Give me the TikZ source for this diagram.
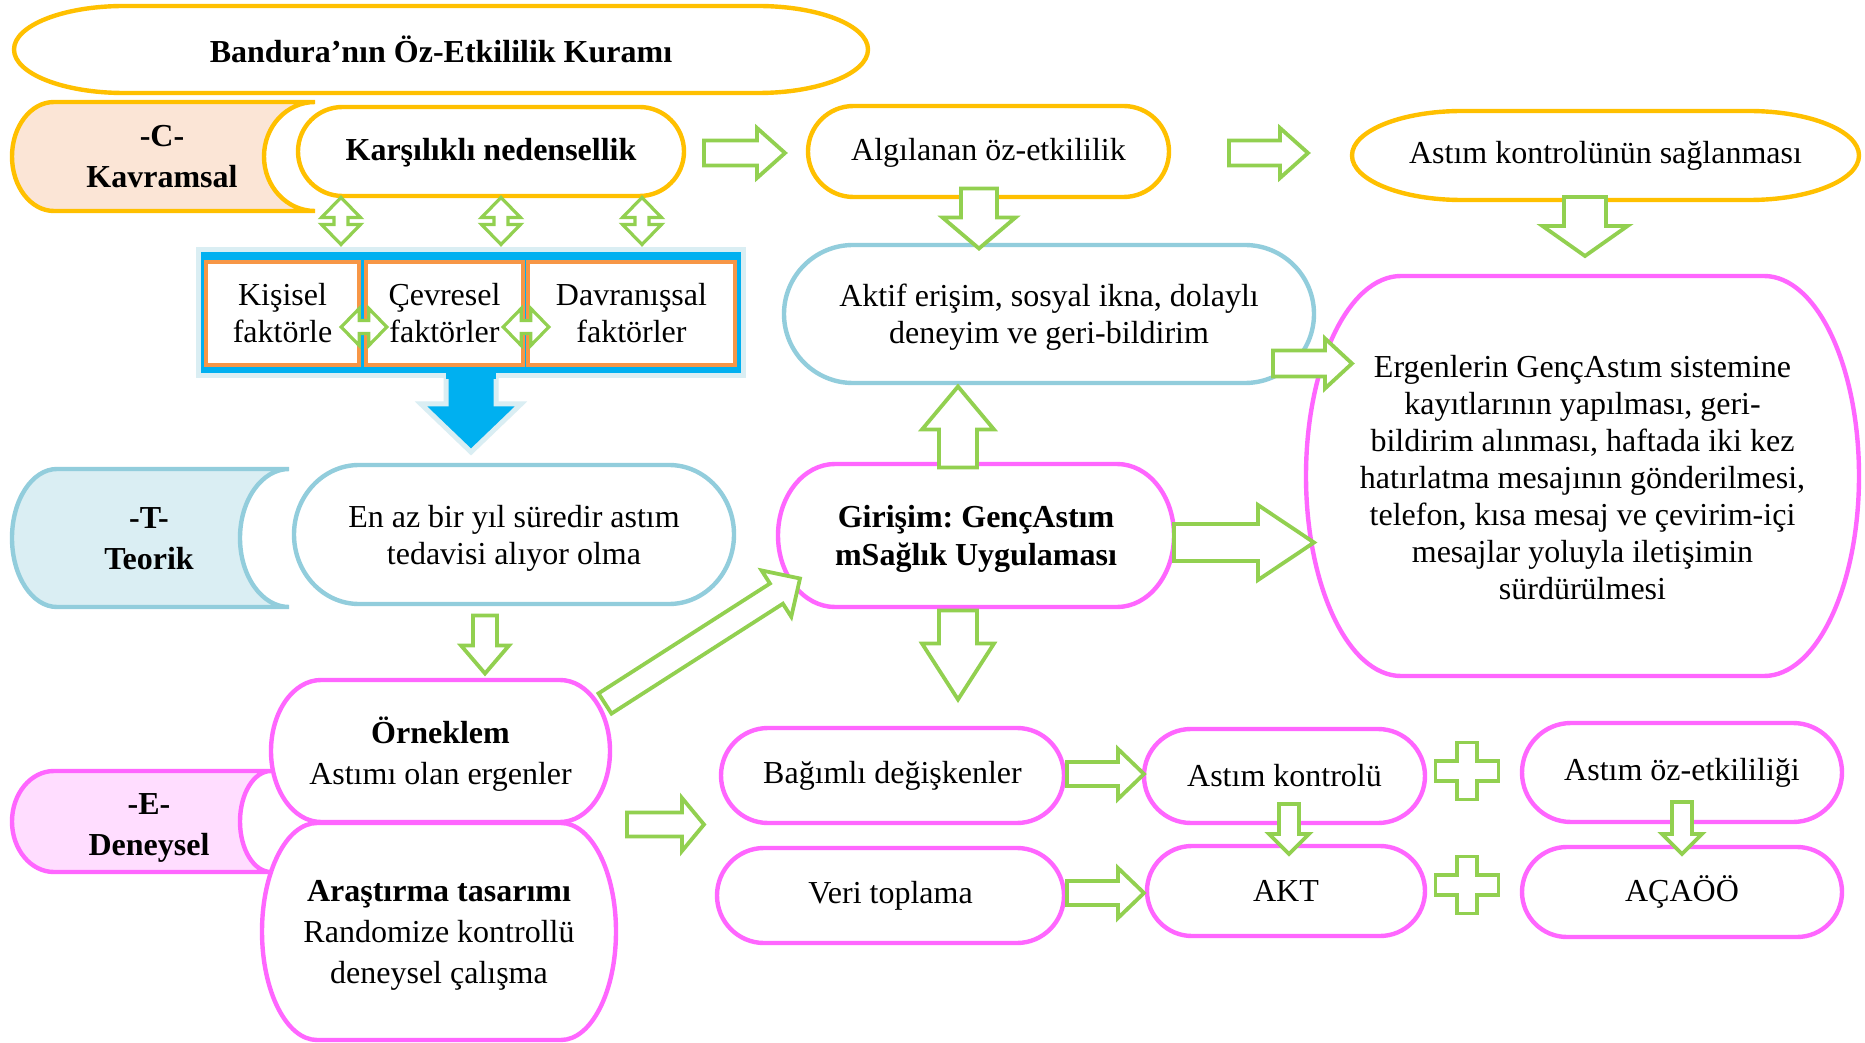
\documentclass[tikz,border=0pt]{standalone}
\usepackage{fontspec}
\setmainfont{Liberation Serif}
\frenchspacing
\usetikzlibrary{calc}
\definecolor{ogold}{HTML}{FFC000}
\definecolor{peach}{HTML}{FBE5D6}
\definecolor{lblue}{HTML}{92CDDC}
\definecolor{lbluefill}{HTML}{DAEEF3}
\definecolor{pinkline}{HTML}{FF66FF}
\definecolor{pinkfill}{HTML}{FFDDFF}
\definecolor{ggreen}{HTML}{92D050}
\definecolor{bblue}{HTML}{00B0F0}
\definecolor{orbox}{HTML}{F79646}
\newcommand{\myfs}{\fontsize{16pt}{18.5pt}\selectfont}
\newcommand{\myfsb}{\fontsize{16pt}{20.5pt}\selectfont\bfseries}
\newcommand{\myfsg}{\fontsize{16pt}{19pt}\selectfont\bfseries}
\newcommand{\myfsw}{\fontsize{16pt}{20.5pt}\selectfont}
\tikzset{
  sz/.style 2 args={minimum width=#1*0.5pt, minimum height=#2*0.5pt},
  tnode/.style={rectangle, inner sep=0pt, outer sep=0pt, align=center, font=\myfs},
  multi/.style={yshift=-1.75pt},
  eo/.style={draw=ogold, line width=2.2pt, fill=white},
  eb/.style={draw=lblue, line width=2.2pt, fill=white},
  ep/.style={draw=pinkline, line width=2.2pt, fill=white},
  fbox/.style={rectangle, draw=orbox, line width=2.2pt, fill=white, inner sep=0pt, align=center, font=\myfs},
  garrow/.style={draw=ggreen, fill=white, line width=1.9pt, line join=miter},
  lbl/.style={align=center, inner sep=0pt, font=\myfsb},
  plussign/.pic={\draw[garrow] (-10,-28.5) -- (10,-28.5) -- (10,-10) -- (31.5,-10) -- (31.5,10) -- (10,10) -- (10,28.5) -- (-10,28.5) -- (-10,10) -- (-31.5,10) -- (-31.5,-10) -- (-10,-10) -- cycle;}
}
% rounded box with elliptical corners: style, cx, cy, w, h, a, b (px)
\newcommand{\eshape}[7]{%
  \draw[#1] ($(#2,#3)+({-#4/2+#6},{-#5/2})$) -- ($(#2,#3)+({#4/2-#6},{-#5/2})$)
    arc[start angle=90,end angle=0,x radius=#6*0.5pt,y radius=#7*0.5pt]
    -- ($(#2,#3)+({#4/2},{#5/2-#7})$)
    arc[start angle=0,end angle=-90,x radius=#6*0.5pt,y radius=#7*0.5pt]
    -- ($(#2,#3)+({-#4/2+#6},{#5/2})$)
    arc[start angle=270,end angle=180,x radius=#6*0.5pt,y radius=#7*0.5pt]
    -- ($(#2,#3)+({-#4/2},{-#5/2+#7})$)
    arc[start angle=180,end angle=90,x radius=#6*0.5pt,y radius=#7*0.5pt] -- cycle;
}
\newcommand{\blockarrow}[6][]{%
  \coordinate (bas) at (#2);
  \coordinate (bae) at (#3);
  \coordinate (bah) at ($(bae)!#6!(bas)$);
  \draw[garrow,#1] ($(bas)!#4!90:(bae)$) -- ($(bah)!#4!90:(bae)$) -- ($(bah)!#5!90:(bae)$) -- (bae) -- ($(bah)!#5!-90:(bae)$) -- ($(bah)!#4!-90:(bae)$) -- ($(bas)!#4!-90:(bae)$) -- cycle;
}
\newcommand{\dblarrow}[5]{%
  \coordinate (das) at (#1);
  \coordinate (dae) at (#2);
  \coordinate (dhs) at ($(das)!#5!(dae)$);
  \coordinate (dhe) at ($(dae)!#5!(das)$);
  \draw[garrow, line width=1.6pt] (das) -- ($(dhs)!#4!90:(dae)$) -- ($(dhs)!#3!90:(dae)$) -- ($(dhe)!#3!90:(dae)$) -- ($(dhe)!#4!90:(dae)$) -- (dae) -- ($(dhe)!#4!-90:(dae)$) -- ($(dhe)!#3!-90:(dae)$) -- ($(dhs)!#3!-90:(dae)$) -- ($(dhs)!#4!-90:(dae)$) -- cycle;
}
\begin{document}
\begin{tikzpicture}[x=0.5pt,y=-0.5pt]
\useasboundingbox (0,0) rectangle (1865,1043);
\fill[white] (0,0) rectangle (1865,1043);

% title
\eshape{eo}{441}{49.5}{854}{87}{110}{43.5}
\node[tnode, sz={854}{87}, font=\myfsb] (title) at (441,49.5) {Bandura’nın Öz-Etkililik Kuramı};

% C shape
\draw[draw=ogold, line width=2.2pt, fill=peach] (315,102) -- (54,102) arc[start angle=90, end angle=270, x radius=21pt, y radius=27.25pt] -- (315,211) arc[start angle=270, end angle=90, x radius=25.5pt, y radius=27.25pt] -- cycle;
\node[lbl] (kavr) at (162,156.5) {-C-\\Kavramsal};

\eshape{eo}{491}{151.5}{386}{89}{44.5}{44.5}
\node[tnode, sz={386}{89}, font=\myfsb, yshift=-0.75pt] (kars) at (491,151.5) {Karşılıklı nedensellik};
\eshape{eo}{988.5}{151.5}{361}{91}{45.5}{45.5}
\node[tnode, sz={361}{91}, yshift=-0.75pt] (alg) at (988.5,151.5) {Algılanan öz-etkililik};
\eshape{eo}{1605.5}{155.5}{507}{89}{110}{44.5}
\node[tnode, sz={507}{89}] (akon) at (1605.5,155.5) {Astım kontrolünün sağlanması};

% blue factor box
\node[rectangle, draw=lbluefill, line width=2.5pt, fill=bblue, inner sep=0pt, minimum width=545*0.5pt, minimum height=126*0.5pt] (fac) at (470.5,313) {};
\path[draw=lbluefill, line width=2.5pt, fill=bblue] (446,377) -- (446,404) -- (421,404) -- (471,452) -- (521,404) -- (496,404) -- (496,377);
\fill[bblue] (446,368) rectangle (496,379);
\node[fbox, minimum width=153*0.5pt, minimum height=103*0.5pt] (kis) at (282.5,313.5) {Kişisel\\faktörle};
\node[fbox, minimum width=157*0.5pt, minimum height=103*0.5pt] (cev) at (444.5,313.5) {Çevresel\\faktörler};
\node[fbox, minimum width=207*0.5pt, minimum height=103*0.5pt] (dav) at (631.5,313.5) {Davranışsal\\faktörler};

% middle
\eshape{eb}{1049}{314}{530}{138}{69}{69}
\node[tnode, sz={530}{138}, multi] (aktif) at (1049,314) {Aktif erişim, sosyal ikna, dolaylı\\deneyim ve geri-bildirim};
\eshape{ep}{1582.5}{476}{553}{400}{95}{200}
\node[tnode, sz={553}{400}, yshift=-0.75pt] (ergen) at (1582.5,476) {Ergenlerin GençAstım sistemine\\kayıtlarının yapılması, geri-\\bildirim alınması, haftada iki kez\\hatırlatma mesajının gönderilmesi,\\telefon, kısa mesaj ve çevirim-içi\\mesajlar yoluyla iletişimin\\sürdürülmesi};

% T shape
\draw[draw=lblue, line width=2.2pt, fill=lbluefill] (289,469) -- (57,469) arc[start angle=90, end angle=270, x radius=22.5pt, y radius=34.5pt] -- (289,607) arc[start angle=270, end angle=90, x radius=24.5pt, y radius=34.5pt] -- cycle;
\node[lbl, yshift=-0.75pt] (teor) at (149,537) {-T-\\Teorik};

\eshape{eb}{514}{534.5}{440}{139}{65}{69.5}
\node[tnode, sz={440}{139}, multi] (enaz) at (514,534.5) {En az bir yıl süredir astım\\tedavisi alıyor olma};
\eshape{ep}{976}{535.5}{396}{143}{57}{71.5}
\node[tnode, sz={396}{143}, font=\myfsg, multi] (giri) at (976,535.5) {Girişim: GençAstım\\mSağlık Uygulaması};

% E shape
\draw[draw=pinkline, line width=2.2pt, fill=pinkfill] (271,771) -- (54,771) arc[start angle=90, end angle=270, x radius=21pt, y radius=25.25pt] -- (271,872) arc[start angle=270, end angle=90, x radius=15.5pt, y radius=25.25pt] -- cycle;
\node[lbl, yshift=-1pt] (deney) at (149,826) {-E-\\Deneysel};

\eshape{ep}{440.5}{751}{339}{142}{50}{71}
\node[tnode, sz={339}{142}, font=\myfsw, multi] (ornek) at (440.5,751) {\textbf{Örneklem}\\Astımı olan ergenler};
\eshape{ep}{439}{931.5}{354}{217}{55}{108.5}
\node[tnode, sz={354}{217}, font=\myfsw, multi] (aras) at (439,931.5) {\textbf{Araştırma tasarımı}\\Randomize kontrollü\\deneysel çalışma};

% bottom row
\eshape{ep}{892.5}{775.5}{343}{95}{47}{47.5}
\node[tnode, sz={343}{95}] (bag) at (892.5,775.5) {Bağımlı değişkenler};
\eshape{ep}{890.5}{895.5}{347}{95}{47}{47.5}
\node[tnode, sz={347}{95}] (veri) at (890.5,895.5) {Veri toplama};
\eshape{ep}{1284.5}{776}{281}{94}{47}{47}
\node[tnode, sz={281}{94}] (akont) at (1284.5,776) {Astım kontrolü};
\eshape{ep}{1286}{891}{278}{90}{45}{45}
\node[tnode, sz={278}{90}] (akt) at (1286,891) {AKT};
\eshape{ep}{1682}{772.5}{320}{99}{49}{49.5}
\node[tnode, sz={320}{99}] (aoz) at (1682,772.5) {Astım öz-etkililiği};
\eshape{ep}{1682}{892}{320}{90}{45}{45}
\node[tnode, sz={320}{90}] (acaoo) at (1682,892) {AÇAÖÖ};

% double arrows
\dblarrow{$(kars.south)+(-150,0)$}{$(fac.north)+(-129.5,-3)$}{3.5pt}{9.75pt}{10pt}
\dblarrow{$(kars.south)+(10,0)$}{$(fac.north)+(30.5,-3)$}{3.5pt}{9.75pt}{10pt}
\dblarrow{$(kars.south)+(151,0)$}{$(fac.north)+(171.5,-3)$}{3.5pt}{9.75pt}{10pt}
\dblarrow{$(kis.east)+(-20,13.5)$}{$(cev.west)+(23,13.5)$}{3.25pt}{9.25pt}{9pt}
\dblarrow{$(cev.east)+(-22,13.5)$}{$(dav.west)+(23,13.5)$}{3.25pt}{9.25pt}{9pt}

% block arrows
\blockarrow{$(kars.east)+(20,0)$}{$(alg.west)+(-23,0)$}{6.25pt}{12.5pt}{14pt}
\blockarrow{$(alg.east)+(60,0)$}{$(alg.east)+(139,0)$}{6.25pt}{12.5pt}{14pt}
\blockarrow{$(alg.south)+(-9.5,-10)$}{$(aktif.north)+(-70,0)$}{9pt}{18.25pt}{15.5pt}
\blockarrow{$(akon.south)+(-20.5,-3)$}{$(akon.south)+(-20.5,56)$}{10.5pt}{21.25pt}{15pt}
\blockarrow{$(aktif.east)+(-41,46)$}{$(aktif.east)+(38,46)$}{6.5pt}{12.5pt}{13.5pt}
\blockarrow{$(giri.east)+(0,3.5)$}{$(giri.east)+(140,3.5)$}{9.25pt}{18.75pt}{28pt}
\blockarrow{$(giri.north)+(-18,0)$}{$(aktif.south)+(-91,0)$}{9.5pt}{18pt}{21.5pt}
\blockarrow{$(giri.south)+(-18,0)$}{$(giri.south)+(-18,89)$}{9.5pt}{18pt}{28pt}
\blockarrow{$(enaz.south)+(-29,8)$}{$(ornek.north)+(44.5,-10)$}{6pt}{12pt}{14pt}
\blockarrow{$(ornek.north east)+(-5,20)$}{$(giri.west)+(22,39.5)$}{6pt}{13.75pt}{14pt}
\blockarrow{$(ornek.east)+(17,70)$}{$(ornek.east)+(94,70)$}{6pt}{13.25pt}{11pt}
\blockarrow{$(bag.east)+(3,-1.5)$}{$(akont.west)+(0,-2)$}{6pt}{12.5pt}{13pt}
\blockarrow{$(veri.east)+(3,-2.5)$}{$(akt.west)+(-3,2)$}{6pt}{12.5pt}{13pt}
\blockarrow{$(akont.south)+(4.5,-19)$}{$(akt.north)+(3,8)$}{5pt}{10pt}{10pt}
\blockarrow{$(aoz.south)+(0,-20)$}{$(acaoo.north)+(0,7)$}{5pt}{10pt}{10pt}

% plus signs
\pic at (1467,771) {plussign};
\pic at (1467,885) {plussign};
\end{tikzpicture}
\end{document}
